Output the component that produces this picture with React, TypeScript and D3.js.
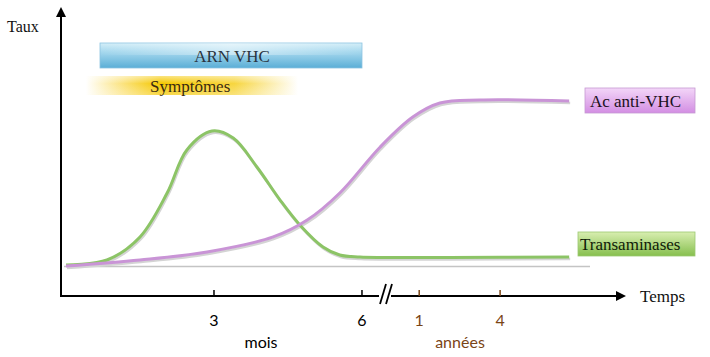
import React from "react";
import * as d3 from "d3";

const W = 710;
const H = 357;

// time in months (post-break positions expressed on the same axis)
const greenT = [0, 0.83, 1.5, 2.05, 2.45, 2.96, 3.39, 3.87, 4.34, 4.74, 5.21, 5.55, 5.96, 7.78, 10.2];
const greenV = [0.6, 3.6, 17.4, 43.7, 69.5, 80.8, 76.6, 59.3, 39.5, 24.6, 11.4, 6.6, 5.4, 5.1, 5.4];

const purpleT = [0, 1.5, 2.86, 4.2, 4.89, 5.55, 6.37, 7.03, 7.58, 8.39, 10.2];
const purpleV = [0, 3.6, 8.4, 17.4, 27.5, 43.7, 71.3, 89.2, 97.6, 99.4, 98.8];

const tickPos = [3, 6, 7.16, 8.8];
const tickLabels = ["3", "6", "1", "4"];
const tickGroup = ["mois", "mois", "années", "années"];

const serif = "Liberation Serif, DejaVu Serif, serif";
const sans = "Lato, Open Sans, sans-serif";

export default function App() {
  const x = d3.scaleLinear().domain([0, 10]).range([66, 559.3]);
  const y = d3.scaleLinear().domain([0, 100]).range([266, 99]);

  const line = d3
    .line<[number, number]>()
    .x((d) => x(d[0]))
    .y((d) => y(d[1]))
    .curve(d3.curveCatmullRom.alpha(0.5));

  const green = line(greenT.map((t, i) => [t, greenV[i]]) as [number, number][]) || "";
  const purple = line(purpleT.map((t, i) => [t, purpleV[i]]) as [number, number][]) || "";

  const brown = "#7a4516";
  const sf = { fontFamily: serif };
  const ss = { fontFamily: sans };

  return (
    <svg
      width={W}
      height={H}
      style={{ position: "absolute", left: 0, top: 0, background: "#fff" }}
    >
      <defs>
        <linearGradient id="blueG" x1="0" y1="0" x2="0" y2="1">
          <stop offset="0" stopColor="#d4eef8" />
          <stop offset="0.35" stopColor="#a6d8ee" />
          <stop offset="1" stopColor="#5aaed6" />
        </linearGradient>
        <linearGradient id="blueEdge" x1="0" y1="0" x2="1" y2="0">
          <stop offset="0" stopColor="#ffffff" stopOpacity="0.0" />
          <stop offset="0.5" stopColor="#ffffff" stopOpacity="0.45" />
          <stop offset="1" stopColor="#ffffff" stopOpacity="0.0" />
        </linearGradient>
        <linearGradient id="yellowG" x1="0" y1="0" x2="1" y2="0">
          <stop offset="0" stopColor="#ffffff" />
          <stop offset="0.18" stopColor="#fbe27a" />
          <stop offset="0.35" stopColor="#f5c800" />
          <stop offset="0.7" stopColor="#f7d640" />
          <stop offset="1" stopColor="#ffffff" />
        </linearGradient>
        <linearGradient id="yellowV" x1="0" y1="0" x2="0" y2="1">
          <stop offset="0" stopColor="#ffffff" stopOpacity="0.5" />
          <stop offset="0.4" stopColor="#ffffff" stopOpacity="0" />
          <stop offset="1" stopColor="#ffffff" stopOpacity="0.3" />
        </linearGradient>
        <linearGradient id="pinkG" x1="0" y1="0" x2="0" y2="1">
          <stop offset="0" stopColor="#f3d6f8" />
          <stop offset="1" stopColor="#d38ee3" />
        </linearGradient>
        <linearGradient id="greenG" x1="0" y1="0" x2="0" y2="1">
          <stop offset="0" stopColor="#d8eeb0" />
          <stop offset="1" stopColor="#86bf4e" />
        </linearGradient>
        <marker id="arrow" viewBox="0 0 10 10" refX="8" refY="5" markerWidth="5" markerHeight="5" orient="auto">
          <path d="M0,0 L10,5 L0,10 z" fill="#000" />
        </marker>
      </defs>

      {/* Taux */}
      <text x={7} y={32} style={sf} fontSize={16} fill="#111">Taux</text>

      {/* Boxes */}
      <rect x={100} y={43} width={262} height={25} fill="url(#blueG)" stroke="#8cc4e0" strokeWidth={0.8} />
      <rect x={100} y={43} width={262} height={12} fill="url(#blueEdge)" />
      <text x={232} y={62} textAnchor="middle" style={sf} fontSize={17} fill="#2a3440">ARN VHC</text>

      <rect x={86} y={76} width={212} height={19} fill="url(#yellowG)" />
      <rect x={86} y={76} width={212} height={19} fill="url(#yellowV)" />
      <text x={150} y={92} style={sf} fontSize={17} fill="#3a2a10">Symptômes</text>

      <rect x={585} y={88} width={110} height={25} fill="url(#pinkG)" stroke="#c69ad2" strokeWidth={0.8} />
      <text x={590} y={107} style={sf} fontSize={17} fill="#1a1020">Ac anti-VHC</text>

      <rect x={578} y={232} width={117} height={24} fill="url(#greenG)" stroke="#9cc870" strokeWidth={0.8} />
      <text x={580} y={250} style={sf} fontSize={17} fill="#102008">Transaminases</text>

      {/* Gray baseline */}
      <line x1={64} x2={590} y1={266.5} y2={266.5} stroke="#c4c4c4" strokeWidth={1.5} />

      {/* Curves with shadow */}
      <path d={green} fill="none" stroke="#d4d4d4" strokeWidth={2.5} transform="translate(1,2)" />
      <path d={purple} fill="none" stroke="#d4d4d4" strokeWidth={2.5} transform="translate(1,2)" />
      <path d={green} fill="none" stroke="#8cc466" strokeWidth={3} />
      <path d={purple} fill="none" stroke="#c994d6" strokeWidth={3} />

      {/* Axes */}
      <line x1={61} y1={297} x2={61} y2={9} stroke="#000" strokeWidth={2} markerEnd="url(#arrow)" />
      <line x1={61} y1={296} x2={624} y2={296} stroke="#000" strokeWidth={2} markerEnd="url(#arrow)" />
      <text x={640} y={302} style={sf} fontSize={17} fill="#111">Temps</text>

      {/* break marks */}
      <rect x={379} y={290} width={12} height={12} fill="#fff" />
      <line x1={380} y1={304} x2={386} y2={284} stroke="#000" strokeWidth={1.8} />
      <line x1={386} y1={304} x2={392} y2={284} stroke="#000" strokeWidth={1.8} />

      {/* ticks */}
      {tickPos.map((t, i) => {
        const c = tickGroup[i] === "mois" ? "#000" : brown;
        return (
          <g key={i}>
            <line x1={x(t)} x2={x(t)} y1={290} y2={296} stroke={c} strokeWidth={1.5} />
            <text x={x(t)} y={326} textAnchor="middle" style={ss} fontSize={16} fill={c}>
              {tickLabels[i]}
            </text>
          </g>
        );
      })}
      <text x={261} y={348} textAnchor="middle" style={ss} fontSize={16} fill="#000">mois</text>
      <text x={460} y={348} textAnchor="middle" style={ss} fontSize={16} fill={brown}>années</text>
    </svg>
  );
}
